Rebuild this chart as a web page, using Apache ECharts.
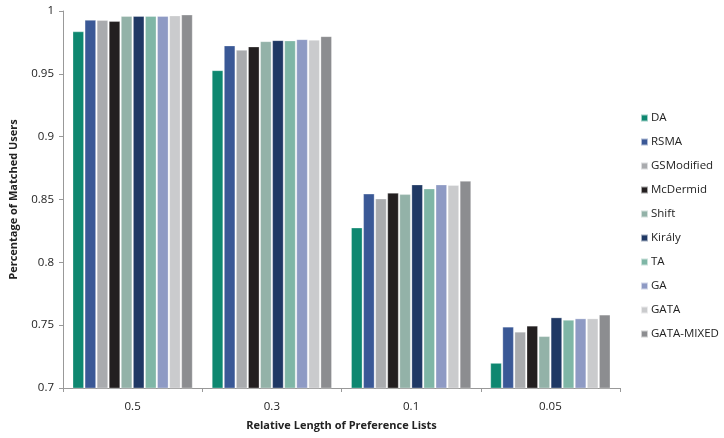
<!DOCTYPE html>
<html>
<head>
<meta charset="utf-8">
<script src="https://cdn.jsdelivr.net/npm/echarts@6/dist/echarts.min.js"></script>
<style>
  html, body { margin: 0; padding: 0; background: #fff; }
  #chart { width: 724px; height: 438px; }
</style>
</head>
<body>
<div id="chart"></div>
<script>
const categories = ['0.5', '0.3', '0.1', '0.05'];
const seriesNames = ['DA', 'RSMA', 'GSModified', 'McDermid', 'Shift', 'Király', 'TA', 'GA', 'GATA', 'GATA-MIXED'];
const colors = ['#0e8770', '#3a5896', '#a9abae', '#231f20', '#93b2a8', '#1f3864', '#7fb6a6', '#8e9ac4', '#cacbcd', '#8c8d90'];

const DA = [0.9836, 0.9527, 0.8275, 0.7198];
const RSMA = [0.9928, 0.9724, 0.8545, 0.7486];
const GSModified = [0.9926, 0.9689, 0.8506, 0.7446];
const McDermid = [0.9918, 0.9716, 0.8552, 0.7494];
const Shift = [0.9958, 0.9758, 0.8541, 0.7411];
const Kiraly = [0.9958, 0.9766, 0.8618, 0.7560];
const TA = [0.9958, 0.9764, 0.8586, 0.7541];
const GA = [0.9958, 0.9774, 0.8618, 0.7552];
const GATA = [0.9963, 0.9769, 0.8613, 0.7552];
const GATA_MIXED = [0.9970, 0.9798, 0.8647, 0.7582];

const seriesValues = [DA, RSMA, GSModified, McDermid, Shift, Kiraly, TA, GA, GATA, GATA_MIXED];

const font = '"Open Sans", "Liberation Sans", sans-serif';

const myChart = echarts.init(document.getElementById('chart'));

const option = {
    animation: false,
    color: colors,
    textStyle: { fontFamily: font },
    grid: { left: 60, right: 104, top: 11, bottom: 50 },
    legend: {
        orient: 'vertical',
        left: 635,
        top: 106,
        itemWidth: 7,
        itemHeight: 7,
        itemGap: 10,
        icon: 'rect',
        textStyle: { fontSize: 11.5, color: '#222', lineHeight: 14, fontFamily: font, padding: [0, 0, 0, -2] },
        data: seriesNames
    },
    xAxis: {
        type: 'category',
        data: categories,
        name: 'Relative Length of Preference Lists',
        nameLocation: 'middle',
        nameGap: 32,
        nameTextStyle: { fontSize: 11, fontWeight: 'bold', color: '#222', fontFamily: font },
        axisLine: { lineStyle: { color: '#999', width: 1 } },
        axisTick: { show: true, length: 4, lineStyle: { color: '#999' } },
        axisLabel: { fontSize: 11.5, color: '#222', margin: 13, fontFamily: font }
    },
    yAxis: {
        type: 'value',
        min: 0.7,
        max: 1,
        interval: 0.05,
        name: 'Percentage of Matched Users',
        nameLocation: 'middle',
        nameGap: 44,
        nameTextStyle: { fontSize: 11, fontWeight: 'bold', color: '#222', fontFamily: font },
        axisLine: { show: true, lineStyle: { color: '#999', width: 1 } },
        axisTick: { show: true, length: 4, lineStyle: { color: '#999' } },
        splitLine: { show: false },
        axisLabel: {
            fontSize: 11.5, color: '#222', margin: 9, fontFamily: font,
            formatter: v => String(parseFloat(v.toFixed(2)))
        }
    },
    series: seriesNames.map((name, i) => ({
        name: name,
        type: 'bar',
        data: seriesValues[i],
        barGap: '9%',
        barCategoryGap: '14%',
        itemStyle: { borderColor: 'rgba(255,255,255,0.6)', borderWidth: 0.5 }
    }))
};

myChart.setOption(option);
window.addEventListener('resize', myChart.resize, false);
</script>
</body>
</html>
